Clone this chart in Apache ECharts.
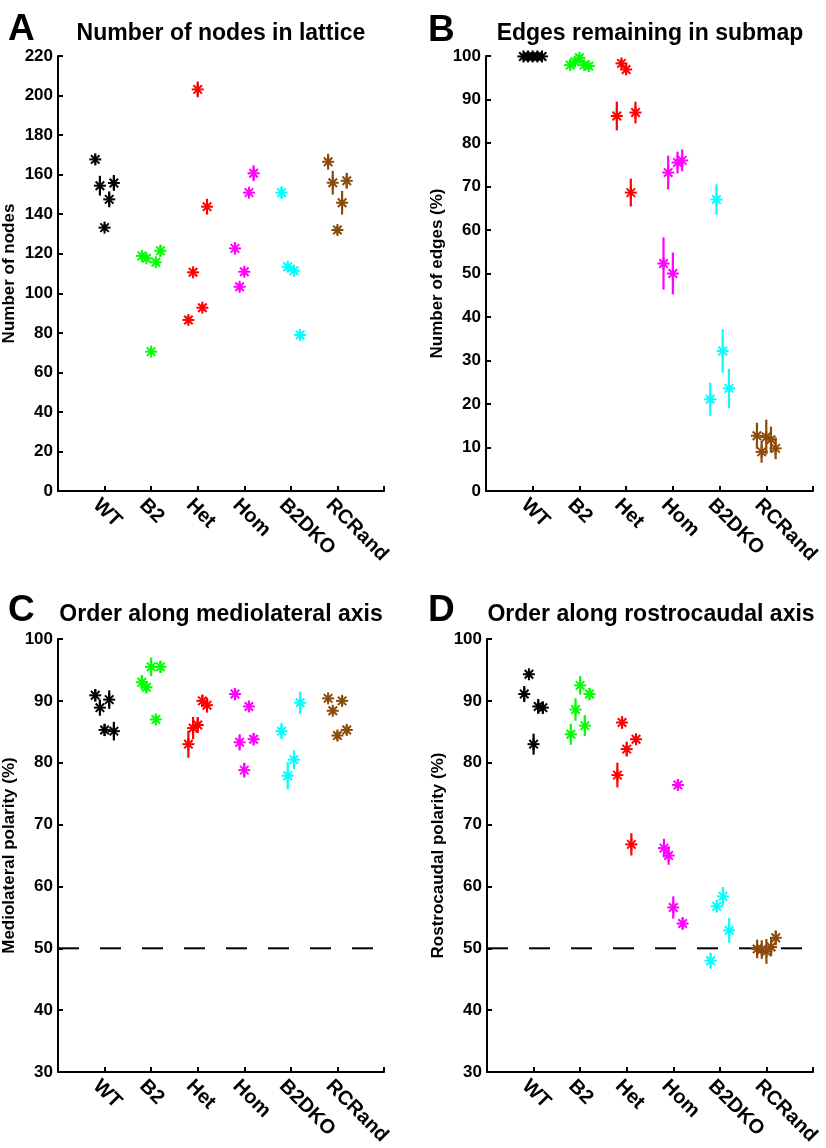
<!DOCTYPE html>
<html>
<head>
<meta charset="utf-8">
<script src="https://cdn.jsdelivr.net/npm/echarts@6/dist/echarts.min.js"></script>
<style>
html,body{margin:0;padding:0;background:#fff;}
#chart{width:826px;height:1148px;}
</style>
</head>
<body>
<div id="chart"></div>
<script>
// ---- categories and colours ----
const categories = ['WT', 'B2', 'Het', 'Hom', 'B2DKO', 'RCRand'];
const categoryTicks = [1, 2, 3, 4, 5, 6];
const groupColors = ['#000000', '#00ff00', '#ff0000', '#ff00ff', '#00ffff', '#8c4a0a'];

// ---- data: [x position, value, error half-length] ----
// Panel A: Number of nodes in lattice
const nodesWT     = [[0.8,167.7,2.5],[0.9,154.4,5],[1.0,133.2,2],[1.1,147.5,4],[1.2,155.8,4]];
const nodesB2     = [[1.8,118.9,2],[1.9,117.7,2],[2.0,70.5,1.5],[2.1,115.7,2],[2.2,121.5,3]];
const nodesHet    = [[2.8,86.5,2],[2.9,110.6,2],[3.0,203.1,4],[3.1,92.7,2],[3.2,143.8,4]];
const nodesHom    = [[3.8,122.7,3],[3.9,103.3,2],[4.0,110.9,2],[4.1,150.9,2],[4.2,160.7,4]];
const nodesB2DKO  = [[4.8,150.9,3],[4.933,113.4,2],[5.067,111.4,2],[5.2,78.9,2]];
const nodesRCRand = [[5.8,166.5,4],[5.9,155.9,6],[6.0,132.0,2],[6.1,145.8,6],[6.2,156.9,4]];

// Panel B: Edges remaining in submap (%)
const edgesWT     = [[0.8,99.9,0.3],[0.9,99.9,0.3],[1.0,99.9,0.3],[1.1,99.9,0.3],[1.2,99.9,0.3]];
const edgesB2     = [[1.8,97.9,0.8],[1.9,98.7,0.8],[2.0,99.6,0.8],[2.1,97.9,0.8],[2.2,97.7,0.8]];
const edgesHet    = [[2.8,86.2,3.3],[2.9,98.3,1],[3.0,96.9,1],[3.1,68.6,3.2],[3.2,87.0,2.5]];
const edgesHom    = [[3.8,52.3,6],[3.9,73.2,3.9],[4.0,50.0,4.8],[4.1,75.5,2.5],[4.2,76.0,2.5]];
const edgesB2DKO  = [[4.8,21.1,3.8],[4.933,67.0,3.5],[5.067,32.2,5],[5.2,23.6,4.5]];
const edgesRCRand = [[5.8,12.7,3],[5.9,9.0,2.5],[6.0,12.4,4],[6.1,11.8,3],[6.2,9.8,2.5]];

// Panel C: Mediolateral polarity (%)
const mlWT     = [[0.8,90.9,1],[0.9,88.9,1.3],[1.0,85.3,1],[1.1,90.2,1.5],[1.2,85.1,1.5]];
const mlB2     = [[1.8,93.0,1.2],[1.9,92.2,1],[2.0,95.5,1.5],[2.1,87.0,0.7],[2.2,95.5,1]];
const mlHet    = [[2.8,83.0,2.2],[2.9,85.6,1.8],[3.0,86.1,1.3],[3.1,90.0,1],[3.2,89.3,1.2]];
const mlHom    = [[3.8,91.1,1],[3.9,83.3,1.3],[4.0,78.8,1.2],[4.1,89.1,0.8],[4.2,83.8,1]];
const mlB2DKO  = [[4.8,85.1,1.3],[4.933,77.9,2.2],[5.067,80.5,1.5],[5.2,89.7,1.8]];
const mlRCRand = [[5.8,90.4,0.6],[5.9,88.4,0.6],[6.0,84.4,0.8],[6.1,90.0,0.8],[6.2,85.3,0.8]];

// Panel D: Rostrocaudal polarity (%)
const rcWT     = [[0.8,91.1,1.3],[0.9,94.3,0.5],[1.0,83.0,1.7],[1.1,89.1,1.2],[1.2,88.9,1]];
const rcB2     = [[1.8,84.6,1.7],[1.9,88.6,1.8],[2.0,92.5,1.5],[2.1,86.0,1.7],[2.2,91.1,1]];
const rcHet    = [[2.8,78.0,2],[2.9,86.5,1],[3.0,82.2,1.2],[3.1,66.8,1.8],[3.2,83.8,0.8]];
const rcHom    = [[3.8,66.2,1.5],[3.9,65.0,1.5],[4.0,56.6,1.8],[4.1,76.4,0.8],[4.2,54.0,1]];
const rcB2DKO  = [[4.8,48.0,1.3],[4.933,56.8,1],[5.067,58.4,1.5],[5.2,52.9,2]];
const rcRCRand = [[5.8,49.9,1.5],[5.9,49.8,1.5],[6.0,49.5,2],[6.1,50.2,1.5],[6.2,51.7,1.2]];

const chanceLevel = 50;

// ---- panels ----
const panels = [
  {letter:'A', title:'Number of nodes in lattice', yName:'Number of nodes', min:0, max:220, interval:20,
   groups:[nodesWT,nodesB2,nodesHet,nodesHom,nodesB2DKO,nodesRCRand], chance:false},
  {letter:'B', title:'Edges remaining in submap', yName:'Number of edges (%)', min:0, max:100, interval:10,
   groups:[edgesWT,edgesB2,edgesHet,edgesHom,edgesB2DKO,edgesRCRand], chance:false},
  {letter:'C', title:'Order along mediolateral axis', yName:'Mediolateral polarity (%)', min:30, max:100, interval:10,
   groups:[mlWT,mlB2,mlHet,mlHom,mlB2DKO,mlRCRand], chance:true},
  {letter:'D', title:'Order along rostrocaudal axis', yName:'Rostrocaudal polarity (%)', min:30, max:100, interval:10,
   groups:[rcWT,rcB2,rcHet,rcHom,rcB2DKO,rcRCRand], chance:true}
];

const layout = [
  {left:58, top:56, width:326, height:435, titleX:221, titleY:22, letterX:8, letterY:11},
  {left:486, top:56, width:327, height:435, titleX:650, titleY:22, letterX:428, letterY:12},
  {left:58, top:639, width:326, height:434, titleX:221, titleY:603, letterX:8, letterY:592},
  {left:487, top:639, width:326, height:434, titleX:651, titleY:603, letterX:428, letterY:592}
];

const FONT = '"Liberation Sans", Arial, Helvetica, sans-serif';
const LABEL_SHIFT = 0.18; // category labels sit slightly left of their ticks

function renderAsterisk(params, api) {
  const x = api.value(0), y = api.value(1), e = api.value(2);
  const c = api.coord([x, y]);
  const t = api.coord([x, y + e]);
  const b = api.coord([x, y - e]);
  const color = api.visual('color');
  const r = 6;
  const children = [{
    type: 'line',
    shape: {x1: c[0], y1: t[1], x2: c[0], y2: b[1]},
    style: {stroke: color, lineWidth: 2.2}
  }];
  for (let k = 0; k < 4; k++) {
    const a = k * Math.PI / 4;
    const dx = Math.cos(a) * r, dy = Math.sin(a) * r;
    children.push({
      type: 'line',
      shape: {x1: c[0] - dx, y1: c[1] - dy, x2: c[0] + dx, y2: c[1] + dy},
      style: {stroke: color, lineWidth: 2}
    });
  }
  return {type: 'group', children: children};
}

const option = {
  backgroundColor: '#ffffff',
  animation: false,
  title: [],
  grid: [],
  xAxis: [],
  yAxis: [],
  series: []
};

panels.forEach((p, i) => {
  const L = layout[i];
  option.title.push({
    text: p.letter, left: L.letterX, top: L.letterY, padding: 0,
    textStyle: {fontFamily: FONT, fontWeight: 'bold', fontSize: 37, color: '#000'}
  });
  option.title.push({
    text: p.title, left: L.titleX, top: L.titleY, textAlign: 'center', padding: 0,
    textStyle: {fontFamily: FONT, fontWeight: 'bold', fontSize: 23, color: '#000'}
  });
  option.grid.push({left: L.left, top: L.top, width: L.width, height: L.height, containLabel: false});
  // main x axis (line + ticks)
  option.xAxis.push({
    type: 'value', gridIndex: i, position: 'bottom', min: 0, max: 7, interval: 1,
    splitLine: {show: false},
    axisLine: {show: true, onZero: false, lineStyle: {color: '#000', width: 2}},
    axisTick: {show: true, inside: true, length: 5, lineStyle: {color: '#000', width: 2}},
    axisLabel: {show: false}
  });
  // label-only x axis (shifted so rotated labels start just left of each tick)
  option.xAxis.push({
    type: 'value', gridIndex: i, position: 'bottom', min: LABEL_SHIFT, max: 7 + LABEL_SHIFT,
    splitLine: {show: false},
    axisLine: {show: false},
    axisTick: {show: false},
    axisLabel: {
      show: true, rotate: -45, margin: 11, customValues: categoryTicks,
      fontFamily: FONT, fontWeight: 'bold', fontSize: 20, color: '#000',
      formatter: function (v) {
        const k = Math.round(v);
        return (k >= 1 && k <= categories.length) ? categories[k - 1] : '';
      }
    }
  });
  option.yAxis.push({
    type: 'value', gridIndex: i, min: p.min, max: p.max, interval: p.interval,
    name: p.yName, nameLocation: 'middle', nameGap: 40,
    nameTextStyle: {fontFamily: FONT, fontWeight: 'bold', fontSize: 17, color: '#000'},
    splitLine: {show: false},
    axisLine: {show: true, onZero: false, lineStyle: {color: '#000', width: 2}},
    axisTick: {show: true, inside: true, length: 5, lineStyle: {color: '#000', width: 2}},
    axisLabel: {margin: 5, fontFamily: FONT, fontWeight: 'bold', fontSize: 17, color: '#000'}
  });
  const xi = 2 * i;
  if (p.chance) {
    option.series.push({
      type: 'line', xAxisIndex: xi, yAxisIndex: i, silent: true, symbol: 'none',
      data: [[0, chanceLevel], [7, chanceLevel]],
      lineStyle: {color: '#000', width: 2, type: [21, 21]}, z: 1
    });
  }
  p.groups.forEach((g, gi) => {
    option.series.push({
      type: 'custom', name: categories[gi], xAxisIndex: xi, yAxisIndex: i,
      renderItem: renderAsterisk,
      itemStyle: {color: groupColors[gi]},
      encode: {x: 0, y: 1},
      data: g, z: 3
    });
  });
});

const chart = echarts.init(document.getElementById('chart'), null, {renderer: 'canvas'});
chart.setOption(option);
</script>
</body>
</html>
